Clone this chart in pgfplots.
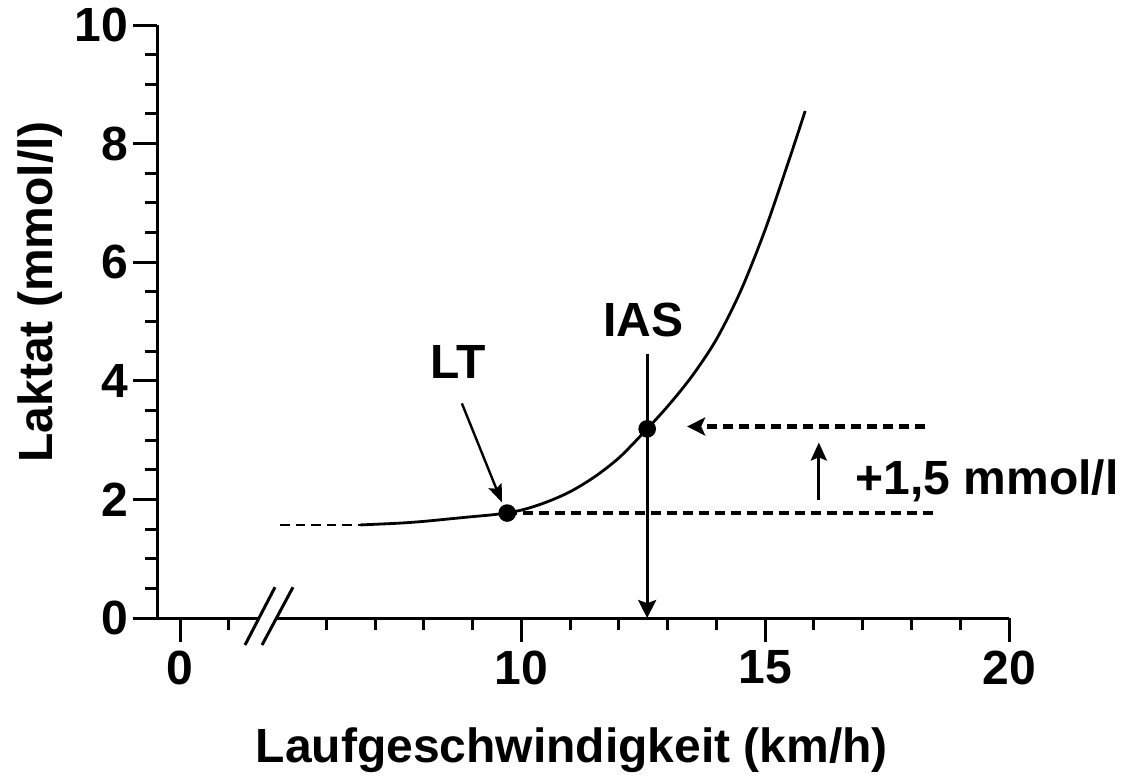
\documentclass[border=0pt]{standalone}
\usepackage{fontspec}
\setmainfont{Liberation Sans}
\usepackage{pgfplots}
\pgfplotsset{compat=1.18}
\usetikzlibrary{arrows.meta}
\begin{document}
\begin{tikzpicture}[font=\fontsize{12}{14}\selectfont\bfseries]
\begin{axis}[
  width=213pt, height=148.25pt, scale only axis,
  at={(0,0)}, anchor=south west,
  clip=false,
  x coord trafo/.code={\pgfmathparse{ifthenelse(#1>4,#1-3,#1)}},
  xmin=-0.472, xmax=20, ymin=0, ymax=10,
  axis x line=bottom, axis y line=left,
  axis line style={-, line width=0.75pt},
  every outer x axis line/.append style={-},
  every outer y axis line/.append style={-},
  xtick={0,10,15,20}, xticklabels={0,10,15,20},
  minor xtick={1,6,7,8,9,11,12,13,14,16,17,18,19},
  ytick={0,2,4,6,8,10}, minor y tick num=3,
  tick align=outside, major tick length=6pt, minor tick length=3pt,
  every tick/.style={black, line width=0.75pt},
  /pgf/number format/assume math mode=true,
  ticklabel style={font=\fontsize{12}{14}\selectfont\bfseries},
  xticklabel style={inner sep=0pt, yshift=-2pt},
  yticklabel style={inner sep=0pt, xshift=-1pt},
  xlabel={Laufgeschwindigkeit (km/h)},
  ylabel={Laktat (mmol/l)},
  label style={font=\fontsize{12}{14}\selectfont\bfseries},
  xlabel style={at={(axis description cs:0.487,-0.2226)}, anchor=center},
  ylabel style={at={(axis description cs:-0.137,0.55)}, anchor=center},
]
% dashed extrapolated start of the curve
\addplot[black, line width=0.7pt, dash pattern=on 2.4pt off 1.5pt] coordinates {(5.05,1.57) (6.9,1.57)};
% lactate curve
\addplot[black, line width=0.7pt, smooth] coordinates {
(6.7,1.57) (7.5,1.60) (8.0,1.63) (8.5,1.67) (9.0,1.71) (9.5,1.75) (10.0,1.82)
(10.5,1.95) (11.0,2.13) (11.5,2.38) (12.0,2.70) (12.5,3.12) (13.0,3.57)
(13.5,4.08) (14.0,4.70) (14.5,5.52) (15.0,6.55) (15.5,7.75) (15.82,8.55)};
% horizontal dashed lines
\addplot[black, line width=1.1pt, dash pattern=on 2.5pt off 1.5pt] coordinates {(9.71,1.77) (18.44,1.77)};
\addplot[black, line width=1.1pt, dash pattern=on 2.5pt off 1.5pt, -{Stealth[length=4.5pt,width=4.5pt,inset=1pt]}] coordinates {(18.28,3.23) (13.4,3.23)};
% IAS vertical arrow
\addplot[black, line width=0.8pt, -{Stealth[length=4.5pt,width=4.5pt,inset=0.8pt]}] coordinates {(12.58,4.46) (12.58,0)};
% LT arrow
\addplot[black, line width=0.6pt, -{Stealth[length=4.5pt,width=3.5pt,inset=0.8pt]}] coordinates {(8.78,3.62) (9.60,1.95)};
% +1.5 arrow
\addplot[black, line width=0.8pt, -{Stealth[length=4.5pt,width=4pt,inset=0.8pt]}] coordinates {(16.1,1.99) (16.1,2.96)};
% points
\addplot[only marks, mark=*, mark size=2pt, black] coordinates {(9.71,1.77) (12.58,3.19)};
\node at (axis cs:8.70,4.31) {LT};
\node at (axis cs:12.5,5.02) {IAS};
\node[anchor=west, inner sep=0pt] at (axis cs:16.84,2.32) {+1,5 mmol/l};
\coordinate (b1) at (axis cs:1.333,-0.455);
\coordinate (b2) at (axis cs:1.948,0.52);
\coordinate (b3) at (axis cs:1.682,-0.455);
\coordinate (b4) at (axis cs:2.317,0.52);
\end{axis}
\fill[white] (b1) -- (b2) -- (b4) -- (b3) -- cycle;
\draw[line width=0.75pt] (b1) -- (b2);
\draw[line width=0.75pt] (b3) -- (b4);
\pgfresetboundingbox
\useasboundingbox (-39.25pt,-39.5pt) rectangle (241pt,154.5pt);
\end{tikzpicture}
\end{document}
